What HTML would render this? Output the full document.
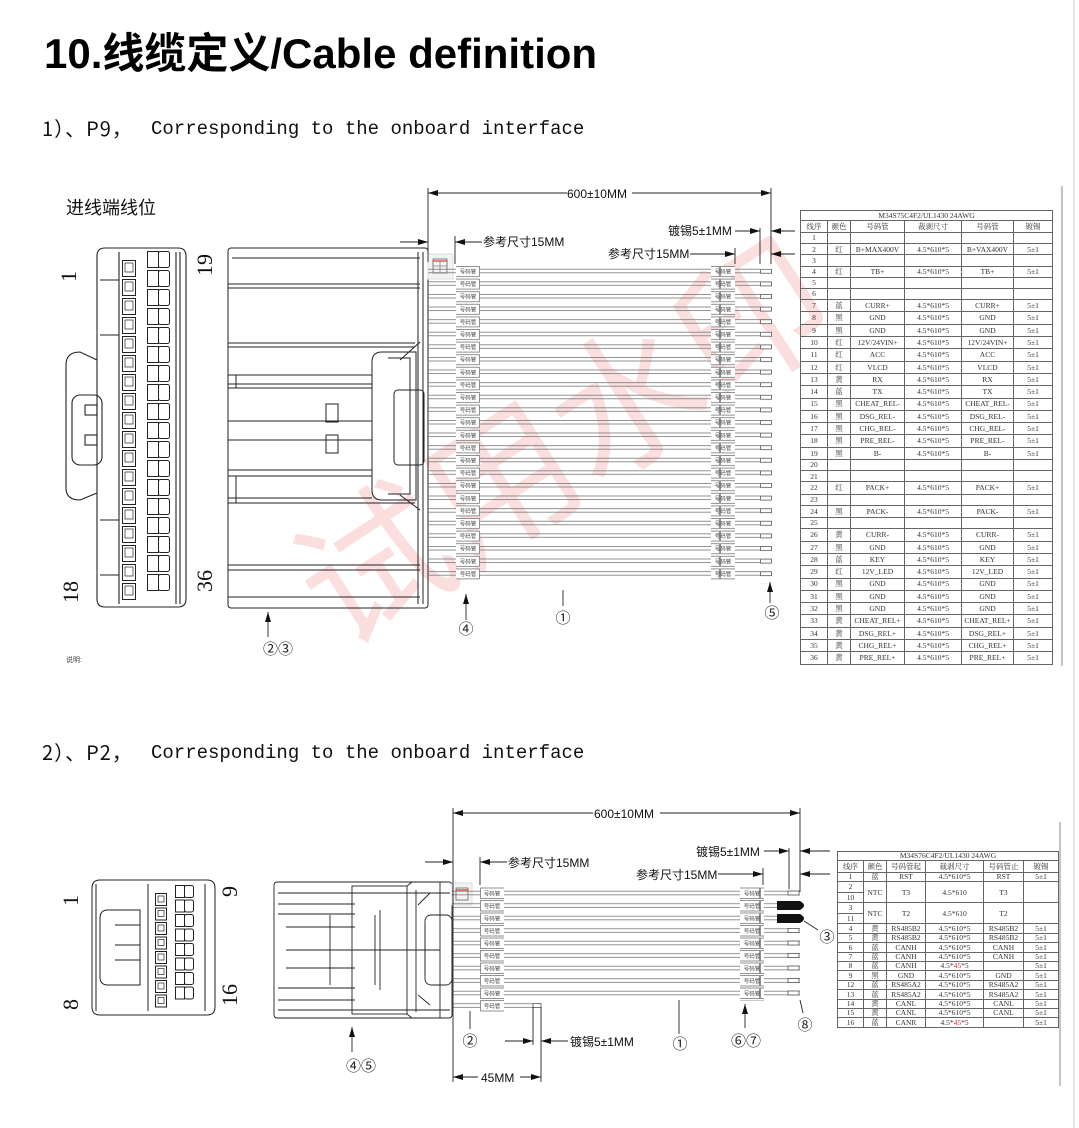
<!DOCTYPE html>
<html><head><meta charset="utf-8">
<style>
html,body{margin:0;padding:0;background:#fff;}
body{width:1079px;height:1128px;position:relative;overflow:hidden;font-family:"Liberation Sans","Noto Sans CJK SC",sans-serif;}
.t{position:absolute;white-space:nowrap;}
table.tb{position:absolute;border-collapse:collapse;font-family:"Liberation Serif","Noto Serif CJK SC",serif;font-size:7.5px;color:#333;table-layout:fixed;}
table.tb td{border:1px solid #666;text-align:center;padding:0;line-height:1;overflow:hidden;white-space:nowrap;}
.r{color:#e02020;}
.mono{font-size:19px;font-family:'Liberation Mono','Noto Sans CJK SC',monospace;color:#111;}
.hd{font-size:20px;color:#111;font-family:"Noto Sans CJK SC",sans-serif;letter-spacing:1px;}
</style></head><body>
<div class="t" style="left:44px;top:20px;font-size:42px;font-weight:bold;color:#000;">10.线缆定义/Cable definition</div>
<div class="t hd" style="left:42px;top:113px;">1）、P9，</div>
<div class="t mono" style="left:151px;top:118px;">Corresponding to the onboard interface</div>
<div class="t hd" style="left:42px;top:737px;">2）、P2，</div>
<div class="t mono" style="left:151px;top:742px;">Corresponding to the onboard interface</div>
<div class="t" style="left:66px;top:194px;font-size:18px;color:#111;">进线端线位</div>
<div class="t" style="left:66px;top:655px;font-size:7px;color:#444;">说明:</div>

<svg width="1079" height="1128" style="position:absolute;left:0;top:0" xmlns="http://www.w3.org/2000/svg">
<defs>
<marker id="ar" viewBox="0 0 10 6" refX="10" refY="3" markerWidth="10" markerHeight="6" orient="auto-start-reverse" markerUnits="userSpaceOnUse"><path d="M0,0 L10,3 L0,6z" fill="#111"/></marker>
<pattern id="wp" patternUnits="userSpaceOnUse" x="0" y="265.4" width="10" height="12.6"><line x1="0" y1="3.8" x2="10" y2="3.8" stroke="#777" stroke-width="0.8"/><line x1="0" y1="7.4" x2="10" y2="7.4" stroke="#777" stroke-width="0.8"/></pattern>
<pattern id="mk" patternUnits="userSpaceOnUse" x="0" y="266" width="40" height="12.6"><rect x="0.5" y="0.5" width="39" height="10" fill="#fff" stroke="#777" stroke-width="0.8"/></pattern>
<pattern id="tn" patternUnits="userSpaceOnUse" x="760" y="268.8" width="12" height="12.6"><rect x="0.5" y="0.5" width="11" height="4" fill="#fff" stroke="#555" stroke-width="0.8"/></pattern>
<pattern id="pin1" patternUnits="userSpaceOnUse" x="122" y="260" width="20" height="19"><rect x="0.5" y="0.5" width="13" height="16" fill="none" stroke="#222" stroke-width="1"/><rect x="3" y="3" width="8" height="9" fill="none" stroke="#222" stroke-width="0.7"/></pattern>
<pattern id="pin2" patternUnits="userSpaceOnUse" x="147" y="251" width="30" height="19"><rect x="0.5" y="0.5" width="11" height="16" fill="none" stroke="#222" stroke-width="1"/><rect x="11.5" y="0.5" width="11" height="16" rx="2" fill="none" stroke="#222" stroke-width="1"/></pattern>
<pattern id="wp2" patternUnits="userSpaceOnUse" x="0" y="887.4" width="10" height="12.5"><line x1="0" y1="3.8" x2="10" y2="3.8" stroke="#777" stroke-width="0.8"/><line x1="0" y1="7.4" x2="10" y2="7.4" stroke="#777" stroke-width="0.8"/></pattern>
<pattern id="mk2" patternUnits="userSpaceOnUse" x="0" y="887.5" width="40" height="12.5"><rect x="0.5" y="0.5" width="39" height="10.5" fill="#fff" stroke="#777" stroke-width="0.8"/></pattern>
<pattern id="pb1" patternUnits="userSpaceOnUse" x="155" y="893" width="20" height="14.5"><rect x="0.5" y="0.5" width="11" height="12" fill="none" stroke="#222"/><rect x="3" y="3" width="6" height="6" fill="none" stroke="#222" stroke-width="0.7"/></pattern>
<pattern id="pb2" patternUnits="userSpaceOnUse" x="175" y="885" width="25" height="14.5"><rect x="0.5" y="0.5" width="9" height="12" fill="none" stroke="#222"/><rect x="9.5" y="0.5" width="9" height="12" rx="2" fill="none" stroke="#222"/></pattern>
</defs>

<g transform="rotate(-33 510 470)" fill="rgba(235,110,110,0.22)" font-family="Noto Sans CJK SC,sans-serif" font-size="150">
<text x="270" y="530">试用水印</text>
</g>

<g fill="none" stroke="#222" stroke-width="1.1">
<path d="M105,248 H178 Q186,248 186,256 V599 Q186,607 178,607 H105 Q97,607 97,599 V400 L97,360 L80,352 Q66,352 66,365 V488 Q66,500 80,500 L97,493 V256 Q97,248 105,248z"/>
<line x1="119" y1="252" x2="119" y2="604"/><line x1="176" y1="252" x2="176" y2="604"/><line x1="180" y1="252" x2="180" y2="604"/>
<rect x="72" y="395" width="30" height="70" rx="8"/>
<rect x="85" y="405" width="12" height="10"/><rect x="85" y="435" width="12" height="10"/>
<line x1="100" y1="280" x2="119" y2="280"/><line x1="100" y1="335" x2="119" y2="335"/><line x1="100" y1="520" x2="119" y2="520"/><line x1="100" y1="575" x2="119" y2="575"/>
</g>
<rect x="122" y="260" width="20" height="342" fill="url(#pin1)"/>
<rect x="147" y="251" width="30" height="342" fill="url(#pin2)"/>
<g font-family="Liberation Serif,serif" font-size="22" fill="#111">
<text transform="translate(76,282) rotate(-90)">1</text>
<text transform="translate(78,603) rotate(-90)">18</text>
<text transform="translate(212,276) rotate(-90)">19</text>
<text transform="translate(212,592) rotate(-90)">36</text>
</g>

<g fill="none" stroke="#222" stroke-width="1">
<rect x="228" y="248" width="200" height="360" rx="3"/>
<line x1="232" y1="258" x2="420" y2="258"/><line x1="228" y1="284" x2="420" y2="284"/><line x1="228" y1="288" x2="420" y2="288"/>
<line x1="228" y1="343" x2="415" y2="343"/><line x1="228" y1="347" x2="415" y2="347"/>
<line x1="228" y1="375" x2="372" y2="375"/><line x1="228" y1="384" x2="372" y2="384"/><line x1="228" y1="388" x2="372" y2="388"/>
<line x1="228" y1="421" x2="372" y2="421"/><line x1="228" y1="440" x2="372" y2="440"/>
<line x1="228" y1="470" x2="372" y2="470"/><line x1="228" y1="476" x2="372" y2="476"/>
<line x1="228" y1="498" x2="372" y2="498"/><line x1="228" y1="503" x2="415" y2="503"/>
<line x1="228" y1="565" x2="420" y2="565"/><line x1="228" y1="570" x2="420" y2="570"/><line x1="228" y1="597" x2="420" y2="597"/>
<rect x="326" y="404" width="12" height="18"/><rect x="326" y="435" width="12" height="18"/>
<line x1="236" y1="375" x2="236" y2="388"/><line x1="236" y1="476" x2="236" y2="503"/>
<path d="M382,352 H416 V500 H382 Q372,500 372,490 V362 Q372,352 382,352z"/>
<path d="M388,358 H410 V494 H388"/>
<path d="M400,360 L420,342 M400,495 L420,510"/>
<line x1="418" y1="252" x2="418" y2="604"/><line x1="423" y1="252" x2="423" y2="604"/>
<rect x="394" y="390" width="30" height="75" rx="4"/>
</g>
<rect x="428" y="254" width="25" height="25" fill="#f3f3f3" stroke="#ddd"/>
<rect x="433" y="259" width="14" height="14" fill="none" stroke="#666" stroke-width="0.8"/>
<line x1="433" y1="261" x2="447" y2="261" stroke="#d33" stroke-width="1.2"/>
<line x1="433" y1="266" x2="447" y2="266" stroke="#666" stroke-width="0.6"/><line x1="440" y1="261" x2="440" y2="273" stroke="#666" stroke-width="0.6"/>

<rect x="428" y="265" width="332" height="315" fill="url(#wp)"/>
<rect x="456" y="266" width="24" height="315" fill="url(#mk)"/>
<rect x="711" y="266" width="24" height="315" fill="url(#mk)"/>
<rect x="760" y="268.8" width="12" height="315" fill="url(#tn)"/>
<g font-family="Noto Sans CJK SC,sans-serif" font-size="5.5" fill="#444" text-anchor="middle">
<text x="468" y="273.5">号码管</text><text x="468" y="286.1">号码管</text><text x="468" y="298.7">号码管</text><text x="468" y="311.3">号码管</text><text x="468" y="323.9">号码管</text><text x="468" y="336.5">号码管</text><text x="468" y="349.1">号码管</text><text x="468" y="361.7">号码管</text><text x="468" y="374.3">号码管</text><text x="468" y="386.9">号码管</text><text x="468" y="399.5">号码管</text><text x="468" y="412.1">号码管</text><text x="468" y="424.7">号码管</text><text x="468" y="437.3">号码管</text><text x="468" y="449.9">号码管</text><text x="468" y="462.5">号码管</text><text x="468" y="475.1">号码管</text><text x="468" y="487.7">号码管</text><text x="468" y="500.3">号码管</text><text x="468" y="512.9">号码管</text><text x="468" y="525.5">号码管</text><text x="468" y="538.1">号码管</text><text x="468" y="550.7">号码管</text><text x="468" y="563.3">号码管</text><text x="468" y="575.9">号码管</text>
<text x="723" y="273.5">号码管</text><text x="723" y="286.1">号码管</text><text x="723" y="298.7">号码管</text><text x="723" y="311.3">号码管</text><text x="723" y="323.9">号码管</text><text x="723" y="336.5">号码管</text><text x="723" y="349.1">号码管</text><text x="723" y="361.7">号码管</text><text x="723" y="374.3">号码管</text><text x="723" y="386.9">号码管</text><text x="723" y="399.5">号码管</text><text x="723" y="412.1">号码管</text><text x="723" y="424.7">号码管</text><text x="723" y="437.3">号码管</text><text x="723" y="449.9">号码管</text><text x="723" y="462.5">号码管</text><text x="723" y="475.1">号码管</text><text x="723" y="487.7">号码管</text><text x="723" y="500.3">号码管</text><text x="723" y="512.9">号码管</text><text x="723" y="525.5">号码管</text><text x="723" y="538.1">号码管</text><text x="723" y="550.7">号码管</text><text x="723" y="563.3">号码管</text><text x="723" y="575.9">号码管</text>
</g>

<g stroke="#222" stroke-width="0.9" fill="none">
<line x1="428" y1="188" x2="428" y2="262"/><line x1="771" y1="188" x2="771" y2="264"/>
<line x1="428" y1="193" x2="567" y2="193" marker-start="url(#ar)"/><line x1="632" y1="193" x2="771" y2="193" marker-end="url(#ar)"/>
<line x1="455" y1="236" x2="455" y2="264"/><line x1="735" y1="248" x2="735" y2="264"/>
<line x1="760" y1="228" x2="760" y2="264"/>
<line x1="400" y1="242" x2="428" y2="242" marker-end="url(#ar)"/><line x1="455" y1="242" x2="482" y2="242" marker-start="url(#ar)"/>
<line x1="690" y1="254" x2="735" y2="254" marker-end="url(#ar)"/><line x1="771" y1="254" x2="795" y2="254" marker-start="url(#ar)"/>
<line x1="735" y1="231" x2="760" y2="231" marker-end="url(#ar)"/><line x1="771" y1="231" x2="795" y2="231" marker-start="url(#ar)"/>
<line x1="268" y1="637" x2="268" y2="612" marker-end="url(#ar)"/>
<line x1="466" y1="620" x2="466" y2="594" marker-end="url(#ar)"/>
<line x1="563" y1="606" x2="563" y2="590"/>
<line x1="770" y1="603" x2="770" y2="582" marker-end="url(#ar)"/>
</g>
<g font-size="12" fill="#111">
<text x="567" y="198">600±10MM</text>
<text x="483" y="246">参考尺寸15MM</text>
<text x="608" y="258">参考尺寸15MM</text>
<text x="668" y="235">镀锡5±1MM</text>
</g>
<g font-family="Noto Sans CJK SC,sans-serif" font-size="15" fill="#222" text-anchor="middle">
<text x="278" y="654">②③</text><text x="466" y="634">④</text><text x="563" y="623">①</text><text x="772" y="618">⑤</text>
</g>

<line x1="1062" y1="186" x2="1062" y2="666" stroke="#888" stroke-width="1"/>
<line x1="1060" y1="822" x2="1060" y2="1086" stroke="#888" stroke-width="1"/>
<line x1="1074" y1="0" x2="1074" y2="1128" stroke="#ccc" stroke-width="1"/>

<g fill="none" stroke="#222" stroke-width="1">
<path d="M100,880 H207 Q215,880 215,888 V1007 Q215,1015 207,1015 H100 Q92,1015 92,1007 V888 Q92,880 100,880z"/>
<line x1="96" y1="884" x2="96" y2="1011"/><line x1="148" y1="884" x2="148" y2="1011"/><line x1="205" y1="884" x2="205" y2="1011"/>
<path d="M108,910 H140 V985 H108 Q100,985 100,977 V918 Q100,910 108,910z"/>
<line x1="115" y1="925" x2="140" y2="925"/><line x1="115" y1="945" x2="140" y2="945"/><line x1="115" y1="960" x2="140" y2="960"/>
</g>
<rect x="155" y="893" width="20" height="116" fill="url(#pb1)"/>
<rect x="175" y="885" width="25" height="116" fill="url(#pb2)"/>
<g font-family="Liberation Serif,serif" font-size="22" fill="#111">
<text transform="translate(78,906) rotate(-90)">1</text>
<text transform="translate(78,1010) rotate(-90)">8</text>
<text transform="translate(237,897) rotate(-90)">9</text>
<text transform="translate(237,1006) rotate(-90)">16</text>
</g>

<g fill="none" stroke="#222" stroke-width="0.9">
<rect x="274" y="882" width="178" height="136" rx="3"/>
<line x1="278" y1="893" x2="450" y2="893"/><line x1="278" y1="904" x2="355" y2="904"/><line x1="278" y1="914" x2="355" y2="914"/>
<line x1="286" y1="927" x2="355" y2="927"/><line x1="286" y1="950" x2="440" y2="950"/><line x1="286" y1="968" x2="355" y2="968"/>
<line x1="278" y1="988" x2="355" y2="988"/><line x1="278" y1="1000" x2="355" y2="1000"/><line x1="278" y1="1010" x2="450" y2="1010"/>
<rect x="352" y="886" width="55" height="128"/>
<line x1="330" y1="915" x2="330" y2="985"/><line x1="375" y1="915" x2="375" y2="985"/><line x1="380" y1="910" x2="380" y2="990"/>
<path d="M407,886 L412,882 H440 V1018 H412 L407,1014"/>
<line x1="416" y1="890" x2="416" y2="1012"/><line x1="425" y1="925" x2="425" y2="975"/>
<path d="M418,905 L430,893 M418,995 L430,1005"/>
<rect x="425" y="915" width="27" height="70" rx="6"/>
</g>
<rect x="452" y="883" width="20" height="22" fill="#f3f3f3" stroke="#ddd"/>
<rect x="456" y="888" width="12" height="12" fill="none" stroke="#666" stroke-width="0.8"/>
<line x1="456" y1="890" x2="468" y2="890" stroke="#d33" stroke-width="1.2"/>

<rect x="452" y="887" width="348" height="113" fill="url(#wp2)"/>
<rect x="452" y="1000" width="81" height="10" fill="url(#wp2)"/>
<rect x="480" y="887.5" width="24" height="125" fill="url(#mk2)"/>
<rect x="740" y="887.5" width="24" height="113" fill="url(#mk2)"/>
<g fill="#fff" stroke="#555" stroke-width="0.8">
<rect x="788" y="891" width="11" height="4"/><rect x="788" y="928.5" width="11" height="4"/><rect x="788" y="941" width="11" height="4"/><rect x="788" y="953.5" width="11" height="4"/><rect x="788" y="966" width="11" height="4"/><rect x="788" y="978.5" width="11" height="4"/><rect x="788" y="991" width="11" height="4"/>
<rect x="533" y="1003.5" width="8" height="4"/>
</g>
<path d="M777,901 H800 Q808,905.5 800,910 H777z" fill="#111"/>
<path d="M777,914 H800 Q808,918.5 800,923 H777z" fill="#111"/>
<g font-family="Noto Sans CJK SC,sans-serif" font-size="5.5" fill="#444" text-anchor="middle">
<text x="492" y="895.5">号码管</text><text x="492" y="908">号码管</text><text x="492" y="920.5">号码管</text><text x="492" y="933">号码管</text><text x="492" y="945.5">号码管</text><text x="492" y="958">号码管</text><text x="492" y="970.5">号码管</text><text x="492" y="983">号码管</text><text x="492" y="995.5">号码管</text><text x="492" y="1008">号码管</text>
<text x="752" y="895.5">号码管</text><text x="752" y="908">号码管</text><text x="752" y="920.5">号码管</text><text x="752" y="933">号码管</text><text x="752" y="945.5">号码管</text><text x="752" y="958">号码管</text><text x="752" y="970.5">号码管</text><text x="752" y="983">号码管</text><text x="752" y="995.5">号码管</text>
</g>

<g stroke="#222" stroke-width="0.9" fill="none">
<line x1="453" y1="808" x2="453" y2="1082"/><line x1="800" y1="808" x2="800" y2="892"/>
<line x1="453" y1="813" x2="593" y2="813" marker-start="url(#ar)"/><line x1="660" y1="813" x2="800" y2="813" marker-end="url(#ar)"/>
<line x1="480" y1="857" x2="480" y2="885"/><line x1="763" y1="868" x2="763" y2="885"/><line x1="789" y1="848" x2="789" y2="889"/>
<line x1="425" y1="862" x2="453" y2="862" marker-end="url(#ar)"/><line x1="480" y1="862" x2="507" y2="862" marker-start="url(#ar)"/>
<line x1="718" y1="874" x2="763" y2="874" marker-end="url(#ar)"/><line x1="800" y1="874" x2="830" y2="874" marker-start="url(#ar)"/>
<line x1="764" y1="851" x2="789" y2="851" marker-end="url(#ar)"/><line x1="800" y1="851" x2="830" y2="851" marker-start="url(#ar)"/>
<line x1="533" y1="1007" x2="533" y2="1045"/><line x1="541" y1="1007" x2="541" y2="1082"/>
<line x1="505" y1="1041" x2="533" y2="1041" marker-end="url(#ar)"/><line x1="541" y1="1041" x2="568" y2="1041" marker-start="url(#ar)"/>
<line x1="453" y1="1077" x2="478" y2="1077" marker-start="url(#ar)"/><line x1="520" y1="1077" x2="541" y2="1077" marker-end="url(#ar)"/>
<line x1="470" y1="1029" x2="470" y2="1011"/>
<line x1="352" y1="1052" x2="352" y2="1027" marker-end="url(#ar)"/>
<line x1="679" y1="1034" x2="679" y2="1000"/>
<line x1="745" y1="1028" x2="745" y2="1004" marker-end="url(#ar)"/>
<line x1="803" y1="1013" x2="800" y2="1000"/>
<line x1="818" y1="930" x2="804" y2="921"/>
</g>
<g font-size="12" fill="#111">
<text x="594" y="818">600±10MM</text>
<text x="508" y="867">参考尺寸15MM</text>
<text x="636" y="879">参考尺寸15MM</text>
<text x="696" y="856">镀锡5±1MM</text>
<text x="570" y="1046">镀锡5±1MM</text>
<text x="481" y="1082">45MM</text>
</g>
<g font-family="Noto Sans CJK SC,sans-serif" font-size="15" fill="#222" text-anchor="middle">
<text x="470" y="1046">②</text><text x="361" y="1071">④⑤</text><text x="680" y="1049">①</text><text x="746" y="1046">⑥⑦</text><text x="805" y="1030">⑧</text><text x="827" y="942">③</text>
</g>
</svg>

<table class="tb" style="left:800px;top:210px;width:252px;">
<colgroup><col style="width:27px"><col style="width:23px"><col style="width:54px"><col style="width:57px"><col style="width:52px"><col style="width:39px"></colgroup>
<tr style="height:10px"><td colspan="6">M34S75C4F2/UL1430 24AWG</td></tr>
<tr style="height:12px"><td>线序</td><td>颜色</td><td>号码管</td><td>裁剥尺寸</td><td>号码管</td><td>镀锡</td></tr>
<tr style="height:11.2px"><td>1</td><td></td><td></td><td></td><td></td><td></td></tr>
<tr style="height:11.2px"><td>2</td><td>红</td><td>B+MAX400V</td><td>4.5*610*5</td><td>B+VAX400V</td><td>5±1</td></tr>
<tr style="height:11.2px"><td>3</td><td></td><td></td><td></td><td></td><td></td></tr>
<tr style="height:11.2px"><td>4</td><td>红</td><td>TB+</td><td>4.5*610*5</td><td>TB+</td><td>5±1</td></tr>
<tr style="height:11.2px"><td>5</td><td></td><td></td><td></td><td></td><td></td></tr>
<tr style="height:11.2px"><td>6</td><td></td><td></td><td></td><td></td><td></td></tr>
<tr style="height:12.3px"><td>7</td><td>蓝</td><td>CURR+</td><td>4.5*610*5</td><td>CURR+</td><td>5±1</td></tr>
<tr style="height:12.3px"><td>8</td><td>黑</td><td>GND</td><td>4.5*610*5</td><td>GND</td><td>5±1</td></tr>
<tr style="height:12.3px"><td>9</td><td>黑</td><td>GND</td><td>4.5*610*5</td><td>GND</td><td>5±1</td></tr>
<tr style="height:12.3px"><td>10</td><td>红</td><td>12V/24VIN+</td><td>4.5*610*5</td><td>12V/24VIN+</td><td>5±1</td></tr>
<tr style="height:12.3px"><td>11</td><td>红</td><td>ACC</td><td>4.5*610*5</td><td>ACC</td><td>5±1</td></tr>
<tr style="height:12.3px"><td>12</td><td>红</td><td>VLCD</td><td>4.5*610*5</td><td>VLCD</td><td>5±1</td></tr>
<tr style="height:12.3px"><td>13</td><td>黄</td><td>RX</td><td>4.5*610*5</td><td>RX</td><td>5±1</td></tr>
<tr style="height:12.3px"><td>14</td><td>蓝</td><td>TX</td><td>4.5*610*5</td><td>TX</td><td>5±1</td></tr>
<tr style="height:12.3px"><td>15</td><td>黑</td><td>CHEAT_REL-</td><td>4.5*610*5</td><td>CHEAT_REL-</td><td>5±1</td></tr>
<tr style="height:12.3px"><td>16</td><td>黑</td><td>DSG_REL-</td><td>4.5*610*5</td><td>DSG_REL-</td><td>5±1</td></tr>
<tr style="height:12.3px"><td>17</td><td>黑</td><td>CHG_REL-</td><td>4.5*610*5</td><td>CHG_REL-</td><td>5±1</td></tr>
<tr style="height:12.3px"><td>18</td><td>黑</td><td>PRE_REL-</td><td>4.5*610*5</td><td>PRE_REL-</td><td>5±1</td></tr>
<tr style="height:12.3px"><td>19</td><td>黑</td><td>B-</td><td>4.5*610*5</td><td>B-</td><td>5±1</td></tr>
<tr style="height:11.2px"><td>20</td><td></td><td></td><td></td><td></td><td></td></tr>
<tr style="height:11.2px"><td>21</td><td></td><td></td><td></td><td></td><td></td></tr>
<tr style="height:12.3px"><td>22</td><td>红</td><td>PACK+</td><td>4.5*610*5</td><td>PACK+</td><td>5±1</td></tr>
<tr style="height:11.2px"><td>23</td><td></td><td></td><td></td><td></td><td></td></tr>
<tr style="height:12.3px"><td>24</td><td>黑</td><td>PACK-</td><td>4.5*610*5</td><td>PACK-</td><td>5±1</td></tr>
<tr style="height:11.2px"><td>25</td><td></td><td></td><td></td><td></td><td></td></tr>
<tr style="height:12.3px"><td>26</td><td>黄</td><td>CURR-</td><td>4.5*610*5</td><td>CURR-</td><td>5±1</td></tr>
<tr style="height:12.3px"><td>27</td><td>黑</td><td>GND</td><td>4.5*610*5</td><td>GND</td><td>5±1</td></tr>
<tr style="height:12.3px"><td>28</td><td>蓝</td><td>KEY</td><td>4.5*610*5</td><td>KEY</td><td>5±1</td></tr>
<tr style="height:12.3px"><td>29</td><td>红</td><td>12V_LED</td><td>4.5*610*5</td><td>12V_LED</td><td>5±1</td></tr>
<tr style="height:12.3px"><td>30</td><td>黑</td><td>GND</td><td>4.5*610*5</td><td>GND</td><td>5±1</td></tr>
<tr style="height:12.3px"><td>31</td><td>黑</td><td>GND</td><td>4.5*610*5</td><td>GND</td><td>5±1</td></tr>
<tr style="height:12.3px"><td>32</td><td>黑</td><td>GND</td><td>4.5*610*5</td><td>GND</td><td>5±1</td></tr>
<tr style="height:12.3px"><td>33</td><td>黄</td><td>CHEAT_REL+</td><td>4.5*610*5</td><td>CHEAT_REL+</td><td>5±1</td></tr>
<tr style="height:12.3px"><td>34</td><td>黄</td><td>DSG_REL+</td><td>4.5*610*5</td><td>DSG_REL+</td><td>5±1</td></tr>
<tr style="height:12.3px"><td>35</td><td>黄</td><td>CHG_REL+</td><td>4.5*610*5</td><td>CHG_REL+</td><td>5±1</td></tr>
<tr style="height:12.3px"><td>36</td><td>黄</td><td>PRE_REL+</td><td>4.5*610*5</td><td>PRE_REL+</td><td>5±1</td></tr>
</table>

<table class="tb" style="left:837px;top:851px;width:221px;">
<colgroup><col style="width:26px"><col style="width:23px"><col style="width:39px"><col style="width:58px"><col style="width:40px"><col style="width:35px"></colgroup>
<tr style="height:9px"><td colspan="6">M34S76C4F2/UL1430 24AWG</td></tr>
<tr style="height:12px"><td>线序</td><td>颜色</td><td>号码管起</td><td>裁剥尺寸</td><td>号码管止</td><td>镀锡</td></tr>
<tr style="height:9.4px"><td>1</td><td>蓝</td><td>RST</td><td>4.5*610*5</td><td>RST</td><td>5±1</td></tr>
<tr style="height:10.5px"><td>2</td><td rowspan="2">NTC</td><td rowspan="2">T3</td><td rowspan="2">4.5*610</td><td rowspan="2">T3</td><td rowspan="2"></td></tr>
<tr style="height:10.5px"><td>10</td></tr>
<tr style="height:10.5px"><td>3</td><td rowspan="2">NTC</td><td rowspan="2">T2</td><td rowspan="2">4.5*610</td><td rowspan="2">T2</td><td rowspan="2"></td></tr>
<tr style="height:10.5px"><td>11</td></tr>
<tr style="height:9.4px"><td>4</td><td>黄</td><td>RS485B2</td><td>4.5*610*5</td><td>RS485B2</td><td>5±1</td></tr>
<tr style="height:9.4px"><td>5</td><td>黄</td><td>RS485B2</td><td>4.5*610*5</td><td>RS485B2</td><td>5±1</td></tr>
<tr style="height:9.4px"><td>6</td><td>蓝</td><td>CANH</td><td>4.5*610*5</td><td>CANH</td><td>5±1</td></tr>
<tr style="height:9.4px"><td>7</td><td>蓝</td><td>CANH</td><td>4.5*610*5</td><td>CANH</td><td>5±1</td></tr>
<tr style="height:9.4px"><td>8</td><td>蓝</td><td>CANH</td><td>4.5*<span class="r">45</span>*5</td><td></td><td>5±1</td></tr>
<tr style="height:9.4px"><td>9</td><td>黑</td><td>GND</td><td>4.5*610*5</td><td>GND</td><td>5±1</td></tr>
<tr style="height:9.4px"><td>12</td><td>蓝</td><td>RS485A2</td><td>4.5*610*5</td><td>RS485A2</td><td>5±1</td></tr>
<tr style="height:9.4px"><td>13</td><td>蓝</td><td>RS485A2</td><td>4.5*610*5</td><td>RS485A2</td><td>5±1</td></tr>
<tr style="height:9.4px"><td>14</td><td>黄</td><td>CANL</td><td>4.5*610*5</td><td>CANL</td><td>5±1</td></tr>
<tr style="height:9.4px"><td>15</td><td>黄</td><td>CANL</td><td>4.5*610*5</td><td>CANL</td><td>5±1</td></tr>
<tr style="height:9.4px"><td>16</td><td>蓝</td><td>CANR</td><td>4.5*<span class="r">45</span>*5</td><td></td><td>5±1</td></tr>
</table>
</body></html>
